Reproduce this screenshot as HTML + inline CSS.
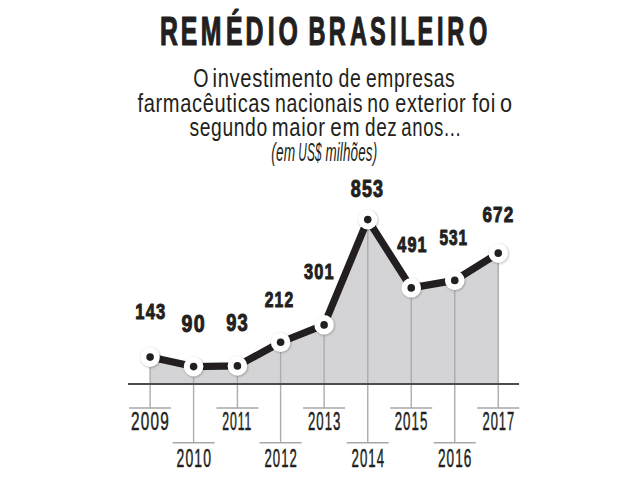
<!DOCTYPE html>
<html lang="pt-BR"><head><meta charset="utf-8"><title>Remédio Brasileiro</title>
<style>html,body{margin:0;padding:0;background:#fff;width:644px;height:480px;overflow:hidden}
svg{display:block} text{font-family:"Liberation Sans",sans-serif;fill:#231f20}</style></head>
<body>
<svg width="644" height="480" viewBox="0 0 644 480">
<defs><filter id="sh" x="-50%" y="-50%" width="200%" height="200%"><feGaussianBlur stdDeviation="1.2"/></filter></defs>
<rect width="644" height="480" fill="#fff"/>
<polygon points="150.1,384.0 150.1,357.1 193.6,366.6 237.4,365.9 280.6,342.25 324.1,324.9 367.75,219.6 411.25,287.9 454.75,280.4 498.25,253.1 498.25,384.0" fill="#d4d4d6"/>
<line x1="150.1" y1="357.1" x2="150.1" y2="408" stroke="#acacae" stroke-width="1.4"/>
<line x1="129.1" y1="408" x2="171.1" y2="408" stroke="#a7a7a9" stroke-width="1.6"/>
<line x1="193.6" y1="366.6" x2="193.6" y2="442.7" stroke="#acacae" stroke-width="1.4"/>
<line x1="172.6" y1="442.7" x2="214.6" y2="442.7" stroke="#a7a7a9" stroke-width="1.6"/>
<line x1="237.4" y1="365.9" x2="237.4" y2="408" stroke="#acacae" stroke-width="1.4"/>
<line x1="216.4" y1="408" x2="258.4" y2="408" stroke="#a7a7a9" stroke-width="1.6"/>
<line x1="280.6" y1="342.25" x2="280.6" y2="442.7" stroke="#acacae" stroke-width="1.4"/>
<line x1="259.6" y1="442.7" x2="301.6" y2="442.7" stroke="#a7a7a9" stroke-width="1.6"/>
<line x1="324.1" y1="324.9" x2="324.1" y2="408" stroke="#acacae" stroke-width="1.4"/>
<line x1="303.1" y1="408" x2="345.1" y2="408" stroke="#a7a7a9" stroke-width="1.6"/>
<line x1="367.75" y1="219.6" x2="367.75" y2="442.7" stroke="#acacae" stroke-width="1.4"/>
<line x1="346.75" y1="442.7" x2="388.75" y2="442.7" stroke="#a7a7a9" stroke-width="1.6"/>
<line x1="411.25" y1="287.9" x2="411.25" y2="408" stroke="#acacae" stroke-width="1.4"/>
<line x1="390.25" y1="408" x2="432.25" y2="408" stroke="#a7a7a9" stroke-width="1.6"/>
<line x1="454.75" y1="280.4" x2="454.75" y2="442.7" stroke="#acacae" stroke-width="1.4"/>
<line x1="433.75" y1="442.7" x2="475.75" y2="442.7" stroke="#a7a7a9" stroke-width="1.6"/>
<line x1="498.25" y1="253.1" x2="498.25" y2="408" stroke="#acacae" stroke-width="1.4"/>
<line x1="477.25" y1="408" x2="519.25" y2="408" stroke="#a7a7a9" stroke-width="1.6"/>
<line x1="128" y1="384.0" x2="519" y2="384.0" stroke="#4d4d4f" stroke-width="1.9"/>
<polyline points="150.1,357.1 193.6,366.6 237.4,365.9 280.6,342.25 324.1,324.9 367.75,219.6 411.25,287.9 454.75,280.4 498.25,253.1" fill="none" stroke="#231f20" stroke-width="7.2" stroke-linejoin="round"/>
<circle cx="150.8" cy="357.9" r="10" fill="#000" opacity="0.24" filter="url(#sh)"/>
<circle cx="194.3" cy="367.4" r="10" fill="#000" opacity="0.24" filter="url(#sh)"/>
<circle cx="238.1" cy="366.7" r="10" fill="#000" opacity="0.24" filter="url(#sh)"/>
<circle cx="281.3" cy="343.05" r="10" fill="#000" opacity="0.24" filter="url(#sh)"/>
<circle cx="324.8" cy="325.7" r="10" fill="#000" opacity="0.24" filter="url(#sh)"/>
<circle cx="368.45" cy="220.4" r="10" fill="#000" opacity="0.24" filter="url(#sh)"/>
<circle cx="411.95" cy="288.7" r="10" fill="#000" opacity="0.24" filter="url(#sh)"/>
<circle cx="455.45" cy="281.2" r="10" fill="#000" opacity="0.24" filter="url(#sh)"/>
<circle cx="498.95" cy="253.9" r="10" fill="#000" opacity="0.24" filter="url(#sh)"/>
<circle cx="150.1" cy="357.1" r="9.8" fill="#fff"/>
<circle cx="150.1" cy="357.1" r="3.8" fill="#231f20"/>
<circle cx="193.6" cy="366.6" r="9.8" fill="#fff"/>
<circle cx="193.6" cy="366.6" r="3.8" fill="#231f20"/>
<circle cx="237.4" cy="365.9" r="9.8" fill="#fff"/>
<circle cx="237.4" cy="365.9" r="3.8" fill="#231f20"/>
<circle cx="280.6" cy="342.25" r="9.8" fill="#fff"/>
<circle cx="280.6" cy="342.25" r="3.8" fill="#231f20"/>
<circle cx="324.1" cy="324.9" r="9.8" fill="#fff"/>
<circle cx="324.1" cy="324.9" r="3.8" fill="#231f20"/>
<circle cx="367.75" cy="219.6" r="9.8" fill="#fff"/>
<circle cx="367.75" cy="219.6" r="3.8" fill="#231f20"/>
<circle cx="411.25" cy="287.9" r="9.8" fill="#fff"/>
<circle cx="411.25" cy="287.9" r="3.8" fill="#231f20"/>
<circle cx="454.75" cy="280.4" r="9.8" fill="#fff"/>
<circle cx="454.75" cy="280.4" r="3.8" fill="#231f20"/>
<circle cx="498.25" cy="253.1" r="9.8" fill="#fff"/>
<circle cx="498.25" cy="253.1" r="3.8" fill="#231f20"/>
<text x="256.781 290.184 322.349 362.601 394.067 429.825 446.896" y="0" transform="translate(0 44.6) scale(0.623 1)" font-size="39.822" font-weight="700" stroke="#231f20" stroke-width="1" vector-effect="non-scaling-stroke" stroke-linejoin="round">REMÉDIO</text>
<text x="522.731 557.327 593.252 626.946 661.228 678.882 707.433 740.658 758.252 794.966" y="0" transform="translate(0 44.6) scale(0.59 1)" font-size="39.822" font-weight="700" stroke="#231f20" stroke-width="1" vector-effect="non-scaling-stroke" stroke-linejoin="round">BRASILEIRO</text>
<text x="-1.187" y="0" transform="translate(194.2 86.8) scale(0.776 1)" font-size="25.316" font-weight="400" letter-spacing="0.8">O</text>
<text x="-1.582" y="0" transform="translate(213.8 86.8) scale(0.798 1)" font-size="25.316" font-weight="400" letter-spacing="0.8">investimento</text>
<text x="-0.791" y="0" transform="translate(339.1 86.8) scale(0.77 1)" font-size="25.316" font-weight="400" letter-spacing="0.8">de</text>
<text x="-0.791" y="0" transform="translate(366.6 86.8) scale(0.759 1)" font-size="25.316" font-weight="400" letter-spacing="0.8">empresas</text>
<text x="0" y="0" transform="translate(137.5 111.5) scale(0.794 1)" font-size="25.316" font-weight="400" letter-spacing="0.8">farmacêuticas</text>
<text x="-1.582" y="0" transform="translate(276.3 111.5) scale(0.771 1)" font-size="25.316" font-weight="400" letter-spacing="0.8">nacionais</text>
<text x="-1.582" y="0" transform="translate(368.4 111.5) scale(0.763 1)" font-size="25.316" font-weight="400" letter-spacing="0.8">no</text>
<text x="-0.791" y="0" transform="translate(395.9 111.5) scale(0.782 1)" font-size="25.316" font-weight="400" letter-spacing="0.8">exterior</text>
<text x="0" y="0" transform="translate(472.2 111.5) scale(0.817 1)" font-size="25.316" font-weight="400" letter-spacing="0.8">foi</text>
<text x="-0.791" y="0" transform="translate(500.6 111.5) scale(0.856 1)" font-size="25.316" font-weight="400" letter-spacing="0.8">o</text>
<text x="-0.396" y="0" transform="translate(189.8 135.6) scale(0.762 1)" font-size="25.316" font-weight="400" letter-spacing="0.8">segundo</text>
<text x="-1.582" y="0" transform="translate(273.1 135.6) scale(0.799 1)" font-size="25.316" font-weight="400" letter-spacing="0.8">maior</text>
<text x="-0.791" y="0" transform="translate(331 135.6) scale(0.812 1)" font-size="25.316" font-weight="400" letter-spacing="0.8">em</text>
<text x="-0.791" y="0" transform="translate(365.6 135.6) scale(0.749 1)" font-size="25.316" font-weight="400" letter-spacing="0.8">dez</text>
<text x="-0.791" y="0" transform="translate(401.9 135.6) scale(0.733 1)" font-size="25.316" font-weight="400" letter-spacing="0.8">anos...</text>
<text x="-1.167" y="0" transform="translate(272 160.8) scale(0.551 1)" font-size="24.889" font-weight="400" font-style="italic" letter-spacing="0.3">(em</text>
<text x="-1.556" y="0" transform="translate(299 160.8) scale(0.475 1)" font-size="24.889" font-weight="400" font-style="italic" letter-spacing="0.3">US$</text>
<text x="-0.389" y="0" transform="translate(325.6 160.8) scale(0.538 1)" font-size="24.889" font-weight="400" font-style="italic" letter-spacing="0.3">milhões)</text>
<text x="-1.404" y="0" transform="translate(136.35 319.45) scale(0.737 1)" font-size="22.471" font-weight="700" letter-spacing="1.5" stroke="#231f20" stroke-width="0.9" vector-effect="non-scaling-stroke" stroke-linejoin="round">143</text>
<text x="-0.724" y="0" transform="translate(182.05 331.55) scale(0.847 1)" font-size="23.182" font-weight="700" letter-spacing="1.5" stroke="#231f20" stroke-width="0.9" vector-effect="non-scaling-stroke" stroke-linejoin="round">90</text>
<text x="-0.724" y="0" transform="translate(226.75 331.25) scale(0.789 1)" font-size="23.182" font-weight="700" letter-spacing="1.5" stroke="#231f20" stroke-width="0.9" vector-effect="non-scaling-stroke" stroke-linejoin="round">93</text>
<text x="-0.716" y="0" transform="translate(265.35 306.55) scale(0.686 1)" font-size="22.898" font-weight="700" letter-spacing="1.5" stroke="#231f20" stroke-width="0.9" vector-effect="non-scaling-stroke" stroke-linejoin="round">212</text>
<text x="-0.351" y="0" transform="translate(304.35 279.45) scale(0.728 1)" font-size="22.471" font-weight="700" letter-spacing="1.5" stroke="#231f20" stroke-width="0.9" vector-effect="non-scaling-stroke" stroke-linejoin="round">301</text>
<text x="-0.724" y="0" transform="translate(351.35 196.95) scale(0.775 1)" font-size="23.182" font-weight="700" letter-spacing="1.5" stroke="#231f20" stroke-width="0.9" vector-effect="non-scaling-stroke" stroke-linejoin="round">853</text>
<text x="0" y="0" transform="translate(397.35 252.45) scale(0.721 1)" font-size="22.471" font-weight="700" letter-spacing="1.5" stroke="#231f20" stroke-width="0.9" vector-effect="non-scaling-stroke" stroke-linejoin="round">491</text>
<text x="-0.358" y="0" transform="translate(439.65 245.25) scale(0.673 1)" font-size="22.898" font-weight="700" letter-spacing="1.5" stroke="#231f20" stroke-width="0.9" vector-effect="non-scaling-stroke" stroke-linejoin="round">531</text>
<text x="-0.716" y="0" transform="translate(482.95 222.45) scale(0.747 1)" font-size="22.898" font-weight="700" letter-spacing="1.5" stroke="#231f20" stroke-width="0.9" vector-effect="non-scaling-stroke" stroke-linejoin="round">672</text>
<text x="-1.187" y="0" transform="translate(131.7 430.1) scale(0.606 1)" font-size="25.316" font-weight="400" letter-spacing="2" stroke="#231f20" stroke-width="0.4" vector-effect="non-scaling-stroke" stroke-linejoin="round">2009</text>
<text x="-1.187" y="0" transform="translate(177.2 467) scale(0.552 1)" font-size="25.316" font-weight="400" letter-spacing="2" stroke="#231f20" stroke-width="0.4" vector-effect="non-scaling-stroke" stroke-linejoin="round">2010</text>
<text x="-1.173" y="0" transform="translate(222.7 430.1) scale(0.489 1)" font-size="25.031" font-weight="400" letter-spacing="2" stroke="#231f20" stroke-width="0.4" vector-effect="non-scaling-stroke" stroke-linejoin="round">2011</text>
<text x="-1.187" y="0" transform="translate(265.1 467) scale(0.519 1)" font-size="25.316" font-weight="400" letter-spacing="2" stroke="#231f20" stroke-width="0.4" vector-effect="non-scaling-stroke" stroke-linejoin="round">2012</text>
<text x="-1.187" y="0" transform="translate(308.5 430.1) scale(0.521 1)" font-size="25.316" font-weight="400" letter-spacing="2" stroke="#231f20" stroke-width="0.4" vector-effect="non-scaling-stroke" stroke-linejoin="round">2013</text>
<text x="-1.187" y="0" transform="translate(352.1 467) scale(0.524 1)" font-size="25.316" font-weight="400" letter-spacing="2" stroke="#231f20" stroke-width="0.4" vector-effect="non-scaling-stroke" stroke-linejoin="round">2014</text>
<text x="-1.187" y="0" transform="translate(395.3 430.1) scale(0.524 1)" font-size="25.316" font-weight="400" letter-spacing="2" stroke="#231f20" stroke-width="0.4" vector-effect="non-scaling-stroke" stroke-linejoin="round">2015</text>
<text x="-1.187" y="0" transform="translate(438.6 467) scale(0.536 1)" font-size="25.316" font-weight="400" letter-spacing="2" stroke="#231f20" stroke-width="0.4" vector-effect="non-scaling-stroke" stroke-linejoin="round">2016</text>
<text x="-1.187" y="0" transform="translate(483 430.1) scale(0.512 1)" font-size="25.316" font-weight="400" letter-spacing="2" stroke="#231f20" stroke-width="0.4" vector-effect="non-scaling-stroke" stroke-linejoin="round">2017</text>
</svg>
</body></html>
